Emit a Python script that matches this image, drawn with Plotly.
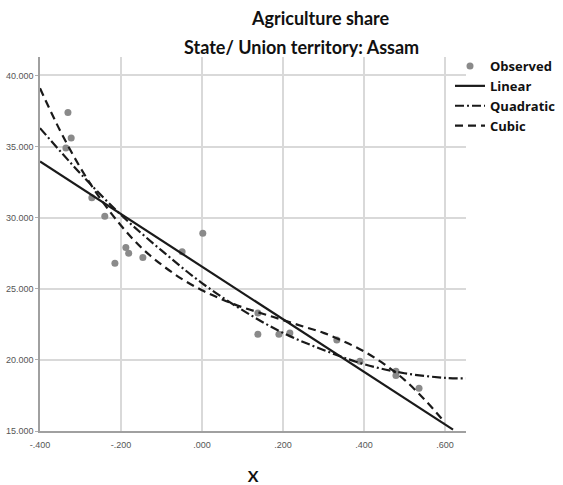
import plotly.graph_objects as go

# Observed values (x, agriculture share)
obs_x = [-0.331, -0.323, -0.336, -0.272, -0.240, -0.215, -0.188, -0.181, -0.146,
         -0.049, 0.002, 0.138, 0.138, 0.190, 0.217, 0.333, 0.390, 0.479, 0.479, 0.536]
obs_y = [37.4, 35.6, 34.9, 31.4, 30.1, 26.8, 27.9, 27.5, 27.2,
         27.6, 28.9, 23.3, 21.8, 21.8, 21.9, 21.4, 19.9, 18.9, 19.2, 18.0]

# Fitted curves, sampled along x
lin_x = [-0.400, 0.620]
lin_y = [33.95, 15.10]

quad_x = [-0.40, -0.30, -0.20, -0.10, 0.00, 0.10, 0.20, 0.30, 0.40, 0.50, 0.60, 0.652]
quad_y = [36.3, 33.1, 30.2, 27.7, 25.4, 23.5, 21.9, 20.7, 19.7, 19.06, 18.74, 18.7]

cub_x = [-0.40, -0.35, -0.30, -0.25, -0.20, -0.15, -0.10, -0.05, 0.00, 0.05, 0.10,
         0.15, 0.20, 0.25, 0.30, 0.35, 0.40, 0.45, 0.50, 0.55, 0.60]
cub_y = [39.1, 36.1, 33.5, 31.3, 29.45, 27.9, 26.7, 25.7, 24.9, 24.25, 23.7,
         23.25, 22.8, 22.35, 21.9, 21.3, 20.6, 19.7, 18.6, 17.2, 15.6]

x_ticks = [-0.4, -0.2, 0.0, 0.2, 0.4, 0.6]
x_tick_labels = ["-.400", "-.200", ".000", ".200", ".400", ".600"]
y_ticks = [15, 20, 25, 30, 35, 40]
y_tick_labels = ["15.000", "20.000", "25.000", "30.000", "35.000", "40.000"]

INK = "#1a1a1a"
BOLD_FAMILY = "Lato, Open Sans, sans-serif"
fig = go.Figure()

fig.add_trace(go.Scatter(
    x=obs_x, y=obs_y, mode="markers", name="Observed",
    marker=dict(color="#8a8a8a", size=7, line=dict(width=0)),
))
fig.add_trace(go.Scatter(
    x=lin_x, y=lin_y, mode="lines", name="Linear",
    line=dict(color=INK, width=2.2),
))
fig.add_trace(go.Scatter(
    x=quad_x, y=quad_y, mode="lines", name="Quadratic",
    line=dict(color=INK, width=2.2, dash="9px,3px,2px,3px", shape="spline"),
))
fig.add_trace(go.Scatter(
    x=cub_x, y=cub_y, mode="lines", name="Cubic",
    line=dict(color=INK, width=2.2, dash="8px,5px", shape="spline"),
))

tick_font = dict(family="Liberation Sans Narrow, Arial Narrow, sans-serif", size=9, color="#555555")

# plot area: x 40..466, y 57..431 (px)
fig.update_layout(
    width=563, height=485, autosize=False,
    margin=dict(l=40, r=97, t=57, b=54, autoexpand=False),
    paper_bgcolor="white", plot_bgcolor="white",
    showlegend=True,
    legend=dict(
        x=(450 - 40) / 426, y=(431 - 51) / 374, xanchor="left", yanchor="top",
        bgcolor="rgba(0,0,0,0)", borderwidth=0,
        font=dict(family="Open Sans, Lato, sans-serif", size=13, color="#111111", weight="bold"),
        tracegroupgap=0,
    ),
    xaxis=dict(
        range=[-0.4, 0.652], tickvals=x_ticks, ticktext=x_tick_labels,
        tickfont=tick_font, showgrid=True, gridcolor="#d9d9d9", gridwidth=1.5,
        zeroline=False, showline=True, linecolor="#a0a0a0", linewidth=1.5,
        ticks="", ticklabelstandoff=4, fixedrange=True, automargin=False,
        title=dict(text="X", font=dict(family=BOLD_FAMILY, size=16,
                                       color="#111111", weight="bold"), standoff=24),
    ),
    yaxis=dict(
        range=[15, 41.3], tickvals=y_ticks, ticktext=y_tick_labels,
        tickfont=tick_font, showgrid=True, gridcolor="#d9d9d9", gridwidth=1.5,
        zeroline=False, showline=True, linecolor="#a0a0a0", linewidth=1.5,
        ticks="outside", ticklen=3, tickcolor="#b0b0b0", fixedrange=True, automargin=False,
    ),
    annotations=[
        dict(text="Agriculture share", xref="paper", yref="paper",
             x=(320 - 40) / 426, y=(431 - 18) / 374, xanchor="center", yanchor="middle",
             showarrow=False,
             font=dict(family=BOLD_FAMILY, size=18, color="#111111", weight="bold")),
        dict(text="State/ Union territory: Assam", xref="paper", yref="paper",
             x=(301 - 40) / 426, y=(431 - 47) / 374, xanchor="center", yanchor="middle",
             showarrow=False,
             font=dict(family=BOLD_FAMILY, size=18, color="#111111", weight="bold")),
    ],
)

fig.write_html("out.html")
